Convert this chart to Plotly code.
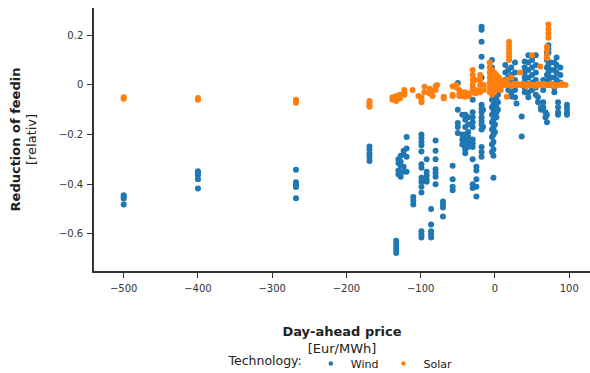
import plotly.graph_objects as go

# ---- data ----
wind_price = (
    [-500] * 4 + [-400] * 5 + [-268] * 5 + [-169] * 5 + [-133] * 5
    + [-130] * 4 + [-127] * 4 + [-123] * 4 + [-119] * 4 + [-110] * 3
    + [-99] * 14 + [-92] * 5 + [-86] * 5 + [-80] * 7 + [-70] * 4
    + [-57] * 4 + [-50] * 5 + [-44] * 4 + [-40] * 9 + [-36] * 6
    + [-30] * 11 + [-25] * 5 + [-18] * 16 + [-16] * 2
    + [-4] * 11 + [-2] * 10 + [0] * 8 + [2] * 5 + [4] * 3
    + [14] * 3 + [18] * 4 + [22] * 5 + [27] * 5 + [29] * 1 + [36] * 2
    + [40] * 7 + [45] * 7 + [50] * 5 + [55] * 6 + [58] * 2 + [62] * 2
    + [65] * 4 + [68] * 2 + [70] * 6 + [72] * 6 + [75] * 4 + [80] * 5
    + [83] * 4 + [85] * 4 + [88] * 3 + [97] * 4
)
wind_reduction = [
    -0.445, -0.452, -0.458, -0.482,
    -0.348, -0.356, -0.364, -0.380, -0.417,
    -0.342, -0.392, -0.402, -0.411, -0.457,
    -0.248, -0.261, -0.277, -0.291, -0.307,
    -0.628, -0.640, -0.652, -0.665, -0.677,
    -0.300, -0.315, -0.345, -0.360,
    -0.285, -0.310, -0.325, -0.370,
    -0.265, -0.280, -0.330, -0.350,
    -0.210, -0.256, -0.290, -0.350,
    -0.452, -0.466, -0.482,
    -0.200, -0.215, -0.230, -0.243, -0.268, -0.320, -0.334, -0.374, -0.390, -0.410, -0.434, -0.590, -0.603, -0.615,
    -0.300, -0.350, -0.365, -0.380, -0.390,
    -0.500, -0.563, -0.590, -0.602, -0.615,
    -0.224, -0.265, -0.300, -0.340, -0.355, -0.370, -0.400,
    -0.470, -0.482, -0.494, -0.530,
    -0.326, -0.380, -0.410, -0.425,
    0.008, -0.100, -0.154, -0.170, -0.194,
    -0.120, -0.200, -0.220, -0.240,
    -0.120, -0.140, -0.170, -0.200, -0.220, -0.235, -0.250, -0.260, -0.275,
    -0.130, -0.160, -0.190, -0.210, -0.230, -0.250,
    -0.060, -0.110, -0.130, -0.150, -0.170, -0.220, -0.235, -0.250, -0.300, -0.400, -0.415,
    -0.330, -0.345, -0.380, -0.410, -0.450,
    0.234, 0.222, 0.174, 0.114, 0.074, 0.030, -0.080, -0.095, -0.110, -0.130, -0.145, -0.160, -0.180, -0.250, -0.270, -0.290,
    -0.170, -0.100,
    0.100, 0.070, -0.030, -0.060, -0.090, -0.120, -0.150, -0.180, -0.210, -0.240, -0.270,
    -0.374, -0.050, -0.080, -0.100, -0.140, -0.170, -0.200, -0.230, -0.260, -0.285,
    0.020, -0.020, -0.040, -0.070, -0.100, -0.130, -0.160, -0.190,
    -0.030, -0.060, -0.090, -0.110, -0.130,
    -0.040, -0.070, -0.100,
    0.080, 0.050, 0.020,
    0.060, 0.030, 0.000, -0.020,
    0.070, 0.040, 0.010, -0.030, -0.047,
    0.090, 0.050, 0.020, -0.020, -0.050,
    -0.075,
    -0.127, -0.208,
    0.094, 0.070, 0.050, 0.030, 0.013, -0.010, -0.030,
    0.120, 0.090, 0.060, 0.030, 0.000, -0.030, -0.050,
    0.100, 0.070, 0.040, 0.010, -0.020,
    0.120, 0.080, 0.050, 0.020, -0.010, -0.040,
    -0.050, -0.070,
    -0.090, -0.100,
    0.020, -0.020, -0.070, -0.090,
    -0.110, -0.130,
    0.130, 0.100, 0.070, 0.040, -0.120, -0.150,
    0.160, 0.145, 0.130, 0.080, 0.050, 0.020,
    0.090, 0.060, 0.030, 0.000,
    0.090, 0.060, 0.030, -0.010, -0.030,
    0.110, 0.080, 0.050, 0.020,
    -0.070, -0.090, -0.110, -0.120,
    0.070, 0.040, 0.010,
    -0.080, -0.095, -0.110, -0.120,
]

solar_price = (
    [-500] * 2 + [-400] * 2 + [-268] * 3 + [-169] * 4 + [-138] * 2
    + [-133] * 3 + [-128] * 2 + [-122] * 3 + [-111] * 1 + [-103] * 1
    + [-99] * 3 + [-95] * 2 + [-88] * 2 + [-84] * 2 + [-80] * 2 + [-78] * 1
    + [-69] * 2 + [-57] * 3 + [-52] * 2 + [-48] * 3 + [-44] * 2 + [-40] * 3
    + [-35] * 2 + [-30] * 6 + [-26] * 3 + [-20] * 5 + [-15] * 2
    + [-7] * 7 + [-4] * 6 + [-1] * 5 + [2] * 4 + [5] * 3 + [8] * 3 + [12] * 2
    + [16] * 3 + [19] * 7 + [22] * 3 + [26] * 2 + [30] * 2 + [34] * 2
    + [38] * 2 + [42] * 2 + [46] * 2 + [50] * 2 + [54] * 2 + [58] * 2
    + [61] * 2 + [65] * 2 + [70] * 5 + [72] * 5 + [76] * 2 + [80] * 2
    + [85] * 1 + [90] * 2 + [95] * 1
)
solar_reduction = [
    -0.050, -0.056,
    -0.053, -0.060,
    -0.060, -0.066, -0.072,
    -0.065, -0.072, -0.080, -0.088,
    -0.050, -0.060,
    -0.045, -0.055, -0.065,
    -0.040, -0.055,
    -0.020, -0.030, -0.040,
    -0.020,
    -0.045,
    -0.050, -0.060, -0.070,
    -0.007, -0.030,
    -0.015, -0.035,
    -0.025, -0.045,
    -0.005, -0.020,
    0.000,
    -0.048, -0.055,
    -0.040, -0.045, -0.005,
    -0.010, 0.000,
    -0.020, -0.035, -0.045,
    -0.030, -0.045,
    -0.030, -0.040, -0.048,
    -0.035, -0.045,
    0.060, 0.040, 0.020, 0.000, -0.015, -0.030,
    0.020, -0.020, -0.035,
    0.040, 0.020, 0.000, -0.020, -0.030,
    0.000, -0.020,
    0.090, 0.070, 0.050, 0.030, 0.010, -0.010, -0.030,
    0.060, 0.040, 0.020, 0.000, -0.020, -0.040,
    0.050, 0.030, 0.010, -0.010, -0.030,
    0.040, 0.020, 0.000, -0.020,
    0.030, 0.010, -0.010,
    0.020, 0.000, -0.020,
    0.010, 0.000,
    -0.048, 0.020, 0.000,
    0.174, 0.160, 0.145, 0.130, 0.115, 0.100, 0.000,
    0.030, 0.000, -0.005,
    0.005, 0.000,
    0.000, 0.005,
    0.050, 0.000,
    0.000, 0.005,
    0.000, -0.005,
    0.000, 0.005,
    0.120, 0.000,
    0.000, -0.005,
    0.000, 0.005,
    0.074, 0.000,
    0.000, 0.005,
    0.154, 0.140, 0.120, 0.107, 0.000,
    0.244, 0.225, 0.208, 0.190, 0.000,
    0.000, 0.005,
    0.000, -0.005,
    0.000,
    0.000, 0.005,
    0.000,
]

series_names = ["Wind", "Solar"]
series_colors = ["#1f77b4", "#ff7f0e"]
x_ticks = [-500, -400, -300, -200, -100, 0, 100]
y_ticks = [-0.6, -0.4, -0.2, 0, 0.2]

fig = go.Figure()
for name, color, xs, ys in zip(series_names, series_colors,
                                [wind_price, solar_price],
                                [wind_reduction, solar_reduction]):
    fig.add_trace(go.Scatter(
        x=xs, y=ys, mode="markers", name=name, legendgroup=name,
        showlegend=False,
        marker=dict(color=color, size=6, line=dict(width=0)),
    ))
# legend entries with the small dots seen in the reference legend
for name, color in zip(series_names, series_colors):
    fig.add_trace(go.Scatter(
        x=[None], y=[None], mode="markers", name=name, legendgroup=name,
        marker=dict(color=color, size=4.5, line=dict(width=0)),
    ))

axis_common = dict(
    showline=True, linecolor="#333", linewidth=1.5, mirror=False,
    ticks="outside", ticklen=5, tickwidth=1, tickcolor="#333",
    ticklabelstandoff=2, automargin=False,
    showgrid=False, zeroline=False,
    tickfont=dict(size=10, color="#333"),
)

fig.update_layout(
    width=590, height=373,
    margin=dict(l=94, r=0, t=8, b=102, autoexpand=False),
    paper_bgcolor="white", plot_bgcolor="white",
    font=dict(family="DejaVu Sans", size=11, color="#222"),
    xaxis=dict(
        range=[-540, 128], tickvals=x_ticks,
        title=dict(text="<b>Day-ahead price</b><br>[Eur/MWh]",
                   font=dict(size=13), standoff=34),
        **axis_common,
    ),
    yaxis=dict(
        range=[-0.75, 0.31], tickvals=y_ticks,
        title=dict(text="<b>Reduction of feedin</b><br>[relativ]",
                   font=dict(size=13), standoff=19),
        **axis_common,
    ),
    legend=dict(
        orientation="h", x=0.5, xanchor="center", y=-0.297, yanchor="top",
        title=dict(text="Technology:", font=dict(size=12.5)),
        font=dict(size=11),
        bgcolor="rgba(0,0,0,0)",
    ),
)

fig.write_html("out.html")
